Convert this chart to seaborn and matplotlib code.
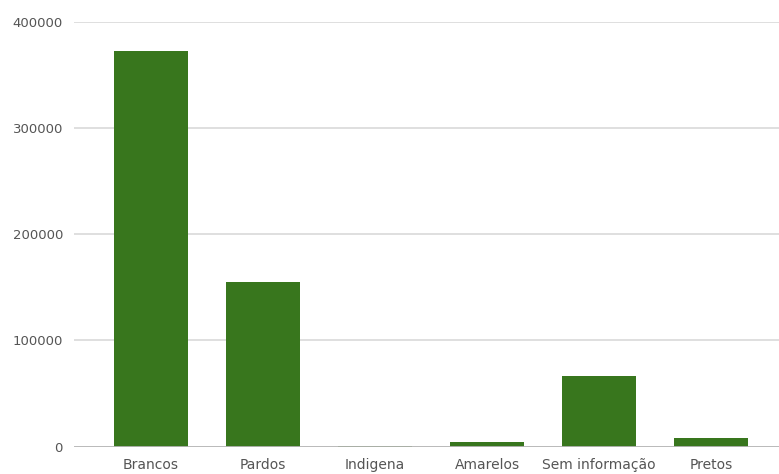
import matplotlib
matplotlib.use("Agg")
import matplotlib.pyplot as plt
import seaborn as sns
import pandas as pd

# Population counts by race/colour group
categorias = ["Brancos", "Pardos", "Indigena", "Amarelos", "Sem informação", "Pretos"]
valores = [372500, 155300, 700, 4200, 66400, 8000]
yticks = [0, 100000, 200000, 300000, 400000]

df = pd.DataFrame({"categoria": categorias, "total": valores})

sns.set_style("white")
plt.rcParams["font.family"] = ["DejaVu Sans"]

fig = plt.figure(figsize=(7.79, 4.74), dpi=100)
ax = fig.add_axes([74 / 779, 27.3 / 474, 705 / 779, 425 / 474])

sns.barplot(data=df, x="categoria", y="total", color="#38761d",
            saturation=1, width=0.66, linewidth=0, ax=ax, zorder=3)

ax.set_ylim(0, 400000)
ax.set_xlim(-0.6875, 5.607)
ax.set_yticks(yticks)
ax.set_yticklabels([str(v) for v in yticks])
ax.set_xlabel("")
ax.set_ylabel("")

ax.yaxis.grid(True, color="#d9d9d9", linewidth=1.2, zorder=0)
ax.axhline(0, color="#b7b7b7", linewidth=2, zorder=4)
for s in ax.spines.values():
    s.set_visible(False)

ax.tick_params(axis="y", length=0, pad=8, labelsize=9.5, labelcolor="#555555")
ax.tick_params(axis="x", length=0, pad=8, labelsize=10, labelcolor="#555555")

fig.savefig("out.png", dpi=100)
